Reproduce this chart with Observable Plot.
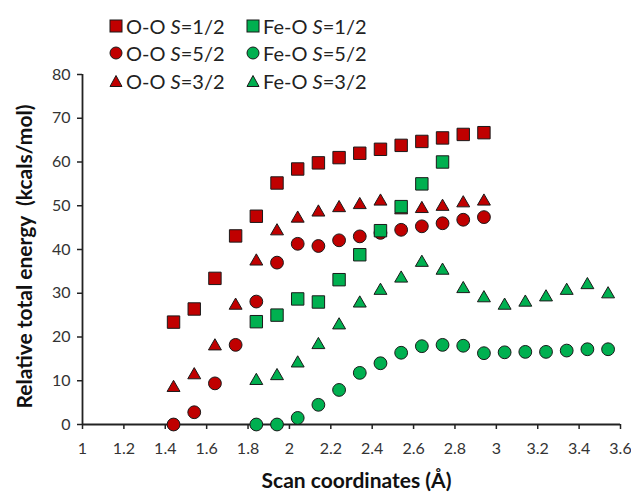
<!DOCTYPE html>
<html>
<head>
<meta charset="utf-8">
<script src="https://cdn.jsdelivr.net/npm/d3@7"></script>
<script src="https://cdn.jsdelivr.net/npm/@observablehq/plot@0.6"></script>
<style>
  body { margin: 0; background: #fff; }
  #wrap { position: relative; width: 631px; height: 492px; font-family: Lato, "Liberation Sans", sans-serif; }
  #legend { position: absolute; left: 109px; top: 12px; display: grid; grid-template-columns: 137px 137px; grid-auto-rows: 27.5px; font-size: 20px; color: #222; z-index: 2; }
  #legend .item { display: flex; align-items: center; white-space: nowrap; }
  #legend svg { margin-right: 3px; flex: none; }
  #wrap > svg { position: absolute; left: 0; top: 0; }
</style>
</head>
<body>
<div id="wrap"><div id="legend"></div></div>
<script>
// ---- data ----
const xOO = [1.44, 1.54, 1.64, 1.74, 1.84, 1.94, 2.04, 2.14, 2.24, 2.34, 2.44, 2.54, 2.64, 2.74, 2.84, 2.94];
const ooS12 = [23.4, 26.4, 33.4, 43.1, 47.6, 55.2, 58.4, 59.8, 61.0, 62.0, 62.9, 63.8, 64.7, 65.5, 66.3, 66.7];
const ooS52 = [0, 2.8, 9.4, 18.2, 28.1, 37.0, 41.3, 40.8, 42.1, 43.0, 43.8, 44.5, 45.3, 46.0, 46.8, 47.4];
const ooS32 = [8.4, 11.3, 17.9, 27.2, 37.3, 44.2, 47.1, 48.5, 49.5, 50.2, 51.0, 49.0, 49.3, 49.8, 50.6, 51.0];

const xFeS12 = [1.84, 1.94, 2.04, 2.14, 2.24, 2.34, 2.44, 2.54, 2.64, 2.74];
const feS12 = [23.5, 25.0, 28.7, 28.0, 33.1, 38.8, 44.3, 49.8, 55.0, 60.0];

const xFe = [1.84, 1.94, 2.04, 2.14, 2.24, 2.34, 2.44, 2.54, 2.64, 2.74, 2.84, 2.94, 3.04, 3.14, 3.24, 3.34, 3.44, 3.54];
const feS52 = [0, 0, 1.5, 4.5, 7.9, 11.8, 14.0, 16.4, 17.9, 18.2, 18.0, 16.3, 16.5, 16.6, 16.6, 16.9, 17.2, 17.2];
const feS32 = [10.0, 11.1, 14.0, 18.2, 22.7, 27.7, 30.6, 33.4, 37.0, 35.2, 31.0, 28.9, 27.2, 27.9, 29.1, 30.6, 31.9, 29.8];

const xTicks = [1, 1.2, 1.4, 1.6, 1.8, 2, 2.2, 2.4, 2.6, 2.8, 3, 3.2, 3.4, 3.6];
const xTickLabels = ["1", "1.2", "1.4", "1.6", "1.8", "2", "2.2", "2.4", "2.6", "2.8", "3", "3.2", "3.4", "3.6"];
const yTicks = [0, 10, 20, 30, 40, 50, 60, 70, 80];

const xDomain = [1, 3.6];
const yDomain = [0, 80];

const seriesNames = ["O-O", "Fe-O"];
const spinLabels = ["=1/2", "=5/2", "=3/2"];
const xTitle = "Scan coordinates (Å)";
const yTitle = "Relative total energy  (kcals/mol)";
// ---- styles ----
const RED = "#C00000";
const GREEN = "#00B050";
const EDGE = "#1a1a1a";

const zip = (xs, ys) => xs.map((x, i) => ({x, y: ys[i]}));

const series = [
  {data: zip(xOO, ooS12), symbol: "square", fill: RED, r: 7.0},
  {data: zip(xOO, ooS52), symbol: "circle", fill: RED, r: 6.4},
  {data: zip(xOO, ooS32), symbol: "triangle", fill: RED, r: 4.8},
  {data: zip(xFeS12, feS12), symbol: "square", fill: GREEN, r: 7.0},
  {data: zip(xFe, feS52), symbol: "circle", fill: GREEN, r: 6.4},
  {data: zip(xFe, feS32), symbol: "triangle", fill: GREEN, r: 4.8}
];

const font = "Lato, 'Liberation Sans', sans-serif";

const chart = Plot.plot({
  width: 631,
  height: 492,
  marginLeft: 82,
  marginRight: 11,
  marginTop: 74,
  marginBottom: 68,
  style: {fontFamily: font, fontSize: "16px", color: "#333", background: "transparent", overflow: "visible"},
  x: {domain: xDomain},
  y: {domain: yDomain},
  marks: [
    Plot.axisX({ticks: xTicks, tickFormat: d => xTickLabels[xTicks.indexOf(d)], tickSize: 5, tickPadding: 13, label: null, stroke: "#222", strokeWidth: 1.5, fill: "#333"}),
    Plot.axisY({ticks: yTicks, tickSize: 5, tickPadding: 7, label: null, stroke: "#222", strokeWidth: 1.5, fill: "#333"}),
    Plot.ruleX([xDomain[0]], {stroke: "#222", strokeWidth: 1.8}),
    Plot.ruleY([yDomain[0]], {stroke: "#222", strokeWidth: 1.8}),
    ...series.map(s => Plot.dot(s.data, {x: "x", y: "y", symbol: () => s.symbol, r: s.r, fill: s.fill, stroke: EDGE, strokeWidth: 1, fillOpacity: 1})),
    Plot.text([xTitle], {frameAnchor: "bottom", text: d => d, lineAnchor: "middle", textAnchor: "middle", dy: 57, dx: 5, fontSize: 21, fontWeight: "bold", fill: "#111"}),
    Plot.text([yTitle], {frameAnchor: "left", text: d => d, rotate: -90, lineAnchor: "middle", textAnchor: "middle", dx: -57.5, dy: 7, fontSize: 21, fontWeight: "bold", fill: "#111"})
  ]
});

const wrap = document.getElementById("wrap");
wrap.appendChild(chart);

// legend (row-wise: O-O | Fe-O)
const legend = document.getElementById("legend");
const markerSvg = (sym, fill) => {
  let shape;
  if (sym === "square") shape = `<rect x="1" y="1" width="12" height="12" fill="${fill}" stroke="${EDGE}" stroke-width="1"/>`;
  else if (sym === "circle") shape = `<circle cx="7" cy="7" r="6" fill="${fill}" stroke="${EDGE}" stroke-width="1"/>`;
  else shape = `<path d="M7,1.5 L13,12.5 L1,12.5 Z" fill="${fill}" stroke="${EDGE}" stroke-width="1"/>`;
  return `<svg width="14" height="14" viewBox="0 0 14 14">${shape}</svg>`;
};
const symbols = ["square", "circle", "triangle"];
const fills = [RED, GREEN];
symbols.forEach((sym, row) => {
  seriesNames.forEach((name, col) => {
    const div = document.createElement("div");
    div.className = "item";
    div.innerHTML = markerSvg(sym, fills[col]) + `<span>${name} <i>S</i>${spinLabels[row]}</span>`;
    legend.appendChild(div);
  });
});
</script>
</body>
</html>
